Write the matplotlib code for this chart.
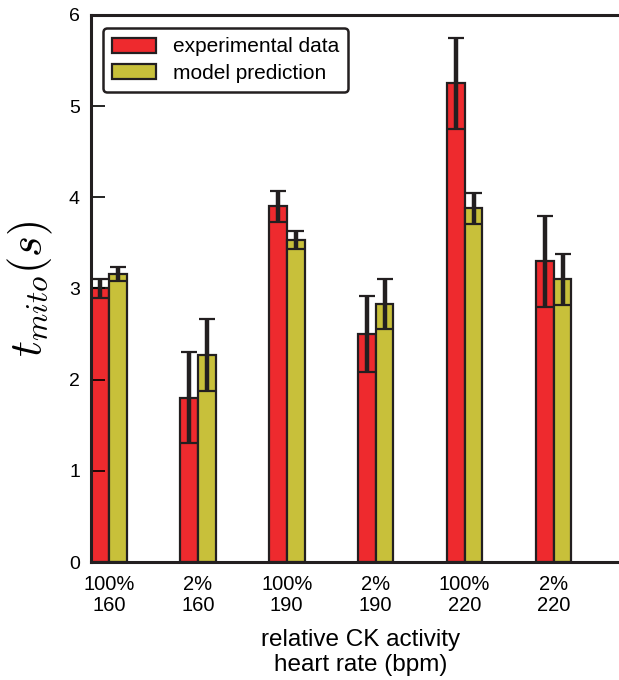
import numpy as np
import matplotlib.pyplot as plt

plt.rcParams['font.family'] = ['Liberation Sans', 'DejaVu Sans']
plt.rcParams['mathtext.fontset'] = 'cm'

ck_labels = ['100%', '2%', '100%', '2%', '100%', '2%']
hr_labels = ['160', '160', '190', '190', '220', '220']
exp_vals = np.array([3.0, 1.8, 3.9, 2.5, 5.25, 3.3])
exp_err = np.array([0.1, 0.5, 0.17, 0.42, 0.5, 0.5])
model_vals = np.array([3.16, 2.27, 3.53, 2.83, 3.88, 3.1])
model_err = np.array([0.08, 0.39, 0.1, 0.27, 0.17, 0.28])

x = np.arange(len(ck_labels))
w = 0.2
edge = '#231f20'

fig = plt.figure(figsize=(6.19, 6.8), dpi=100)
ax = fig.add_axes([0.147, 0.1735, 0.871, 0.8045])

err_kw = dict(ecolor=edge, elinewidth=3.2, capsize=5.5, capthick=1.6)
ax.bar(x - w / 2, exp_vals, w, yerr=exp_err, color='#ee2a2e',
       edgecolor=edge, linewidth=1.6, error_kw=err_kw, label='experimental data')
ax.bar(x + w / 2, model_vals, w, yerr=model_err, color='#c8c03a',
       edgecolor=edge, linewidth=1.6, error_kw=err_kw, label='model prediction')

ax.set_xlim(-0.2, 5.86)
ax.set_ylim(0, 6)
ax.set_xticks(x)
ax.set_xticklabels([a + '\n' + b for a, b in zip(ck_labels, hr_labels)],
                   fontsize=14.5, linespacing=1.15)
ax.tick_params(axis='x', length=0, pad=9)
ax.tick_params(axis='y', direction='in', length=10, width=1.2,
               labelsize=14, pad=8, right=False)
for s in ax.spines.values():
    s.set_linewidth(2.2)
    s.set_color(edge)

ax.set_xlabel('relative CK activity\nheart rate (bpm)', fontsize=17.5,
              linespacing=1.2, labelpad=10)
ax.set_ylabel(r'$t_{mito}(s)$', fontsize=32)
ax.yaxis.set_label_coords(-0.066, 0.5)

leg = ax.legend(loc='upper left', fontsize=15, handlelength=2.1,
                handleheight=0.75, borderpad=0.45, labelspacing=0.35,
                handletextpad=0.8, fancybox=True, framealpha=1,
                bbox_to_anchor=(0.003, 0.995))
leg.get_frame().set_edgecolor(edge)
leg.get_frame().set_linewidth(1.8)

fig.savefig('out.png', dpi=100)
